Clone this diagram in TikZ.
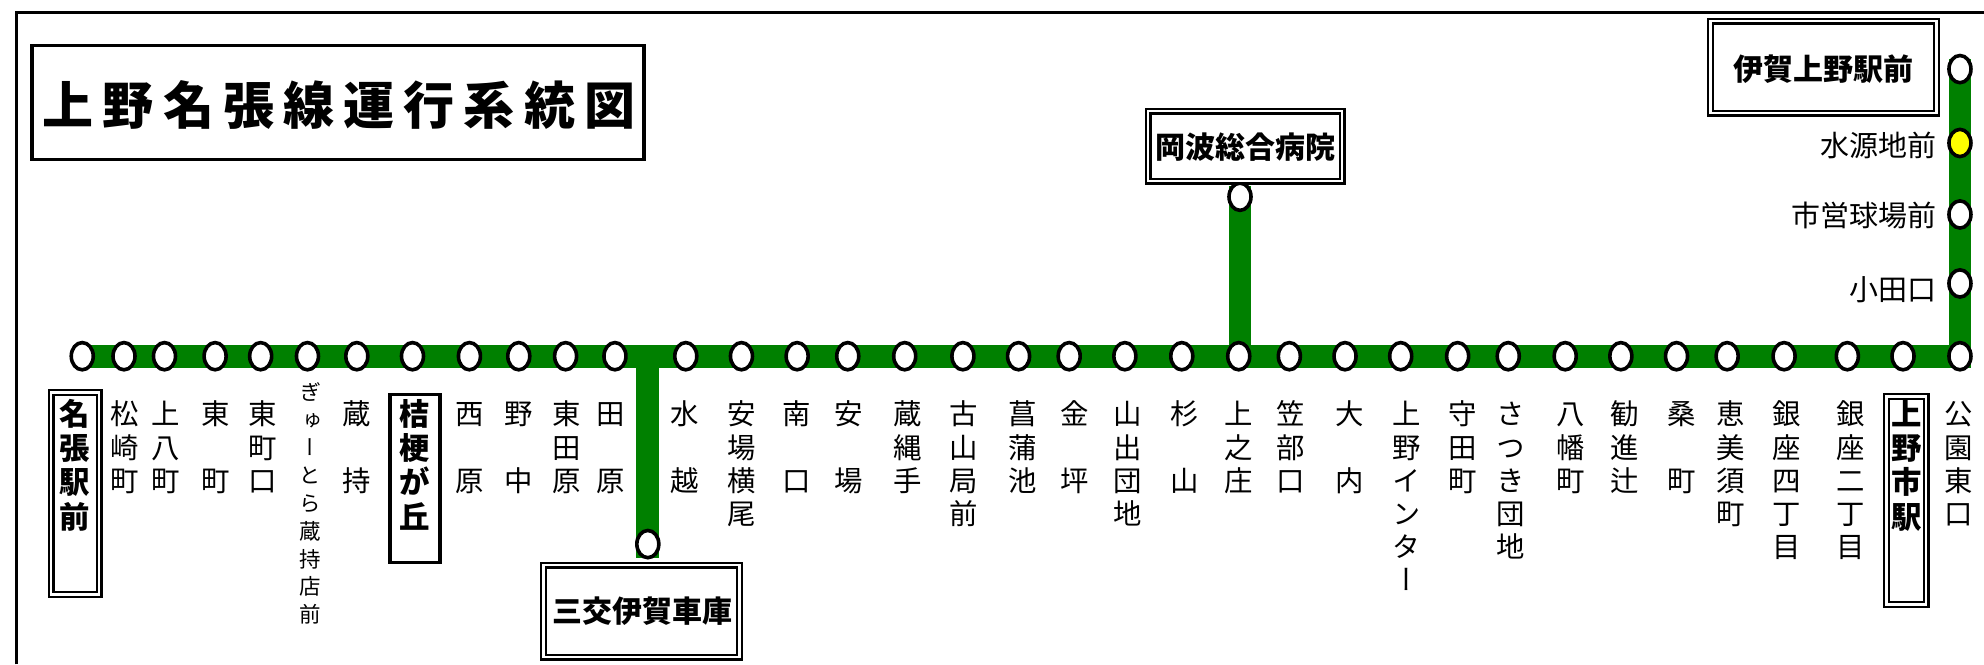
\documentclass[tikz,border=0pt]{standalone}
\usepackage{fontspec}
\setmainfont{Noto Sans CJK JP}
\newfontfamily\vlab[RawFeature=+vert]{Noto Sans CJK JP}
\newfontfamily\titlef[LetterSpace=18]{Noto Sans CJK JP}
\usetikzlibrary{shapes.geometric,backgrounds}
\newcommand\tp{\rule{0pt}{1em}}
\definecolor{trackgreen}{HTML}{008000}
\definecolor{stopyellow}{HTML}{FFFF00}
\tikzset{
  stn/.style={ellipse,draw=black,fill=white,line width=1.8pt,inner sep=0pt,minimum width=11pt,minimum height=13.6pt},
  track/.style={draw=trackgreen,line width=11.4pt},
  frameline/.style={draw=black,line width=1.8pt},
  lbl/.style={anchor=north,inner sep=0pt,align=center,font=\vlab\fontsize{14.2}{16.6}\selectfont},
  slbl/.style={anchor=north,inner sep=0pt,align=center,font=\vlab\fontsize{10.75}{13.9}\selectfont},
  blbl/.style={anchor=north,inner sep=0pt,align=center,font=\bfseries\fontsize{15.2}{17.1}\selectfont},
  rlbl/.style={anchor=east,inner sep=0pt,font=\fontsize{14.5}{16.6}\selectfont},
  hbold/.style={inner sep=0pt,font=\bfseries\fontsize{15}{17}\selectfont},
  dbox/.style={draw=black,fill=white,double=white,line width=1.1pt,double distance=1.3pt,inner sep=0pt},
  sbox/.style={draw=black,fill=white,line width=1.7pt,inner sep=0pt},
}
\begin{document}
\begin{tikzpicture}[x=0.6327pt,y=-0.6327pt]
\useasboundingbox (0,0) rectangle (1568,525);
% frame
\coordinate (fa) at (13,525);
\coordinate (fb) at (13,10);
\coordinate (fc) at (1568,10);
\draw[frameline] (fa) -- (fb) -- (fc);
% stations on the main line
\foreach \i/\x in {1/65,2/98,3/130,4/170,5/206,6/243,7/282,8/326,9/371,10/410,11/447,12/486,13/542,14/586,15/630,16/670,17/715,18/761,19/805,20/845,21/889,22/934,23/979,24/1019,25/1063,26/1107,27/1152,28/1192,29/1237,30/1281,31/1325,32/1365,33/1410,34/1460,35/1504,36/1549}
  \node[stn] (s\i) at (\x,281.5) {};
% stations on the vertical part and branches
\node[stn] (v1) at (1549,224) {};
\node[stn] (v2) at (1549,169.5) {};
\node[stn,fill=stopyellow] (v3) at (1549,113) {};
\node[stn] (v4) at (1549,54.6) {};
\node[stn] (bu) at (980,155.5) {};
\node[stn] (bd) at (512,430) {};
\coordinate (vtop) at (1549,47);
\coordinate (buend) at (980,147);
\coordinate (buroot) at (980,281.5);
\coordinate (bdend) at (512,441);
\coordinate (junc) at (512,281.5);
\begin{scope}[on background layer]
  \draw[track] (s1.center) -- (s36.center) -- (vtop);
  \draw[track] (buroot) -- (buend);
  \draw[track] (junc) -- (bdend);
\end{scope}
% title
\node[sbox,minimum width=306pt,minimum height=57pt] (title) at (267,81) {};
\node[inner sep=0pt,font=\titlef\bfseries\fontsize{25.5}{30}\selectfont] (titlet) at (268,83) {上野名張線運行系統図};
% boxed horizontal stops
\node[dbox,minimum width=113pt,minimum height=46pt] (b1) at (1441,53) {};
\node[hbold] (b1t) at (1441,55) {伊賀上野駅前};
\node[dbox,minimum width=97pt,minimum height=35pt] (b2) at (984,115.5) {};
\node[hbold] (b2t) at (984,116) {岡波総合病院};
\node[dbox,minimum width=98pt,minimum height=46pt] (b3) at (507,483) {};
\node[hbold] (b3t) at (508,483) {三交伊賀車庫};
% boxed vertical stops
\node[dbox,minimum width=24pt,minimum height=101pt] (b4) at (59.3,390) {};
\node[blbl] (b4t) at (59.3,312) {\tp 名\\張\\駅\\前};
\node[sbox,minimum width=25pt,minimum height=84pt] (b5) at (328,378) {};
\node[blbl] (b5t) at (328,312) {\tp 桔\\梗\\が\\丘};
\node[dbox,minimum width=20pt,minimum height=104pt] (b6) at (1506.5,395.5) {};
\node[blbl] (b6t) at (1507,312) {\tp 上\\野\\市\\駅};
% right-hand labels
\node[rlbl] (r1) at (1531,115) {水源地前};
\node[rlbl] (r2) at (1531,170) {市営球場前};
\node[rlbl] (r3) at (1531,229) {小田口};
% vertical labels
\node[lbl] at (98.8,313) {\tp 松\\崎\\町};
\node[lbl] at (131,313) {\tp 上\\八\\町};
\node[lbl] at (170.4,313) {\tp 東\\~\\町};
\node[lbl] at (207.5,313) {\tp 東\\町\\口};
\node[slbl] at (245,299) {\tp ぎ\\ゅ\\ー\\と\\ら\\蔵\\持\\店\\前};
\node[lbl] at (282,313) {\tp 蔵\\~\\持};
\node[lbl] at (371.5,313) {\tp 西\\~\\原};
\node[lbl] at (410,313) {\tp 野\\~\\中};
\node[lbl] at (448,313) {\tp 東\\田\\原};
\node[lbl] at (483,313) {\tp 田\\~\\原};
\node[lbl] at (541,313) {\tp 水\\~\\越};
\node[lbl] at (586,313) {\tp 安\\場\\横\\尾};
\node[lbl] at (630,313) {\tp 南\\~\\口};
\node[lbl] at (671,313) {\tp 安\\~\\場};
\node[lbl] at (717,313) {\tp 蔵\\縄\\手};
\node[lbl] at (762,313) {\tp 古\\山\\局\\前};
\node[lbl] at (808,313) {\tp 菖\\蒲\\池};
\node[lbl] at (849,313) {\tp 金\\~\\坪};
\node[lbl] at (891.6,313) {\tp 山\\出\\団\\地};
\node[lbl] at (936.6,313) {\tp 杉\\~\\山};
\node[lbl] at (978.6,313) {\tp 上\\之\\庄};
\node[lbl] at (1020,313) {\tp 笠\\部\\口};
\node[lbl] at (1067,313) {\tp 大\\~\\内};
\node[lbl] at (1112,313) {\tp 上\\野\\イ\\ン\\タ\\ー};
\node[lbl] at (1156,313) {\tp 守\\田\\町};
\node[lbl] at (1193.6,313) {\tp さ\\つ\\き\\団\\地};
\node[lbl] at (1241.6,313) {\tp 八\\幡\\町};
\node[lbl] at (1283.7,313) {\tp 勧\\進\\辻};
\node[lbl] at (1328.8,313) {\tp 桑\\~\\町};
\node[lbl] at (1368,313) {\tp 恵\\美\\須\\町};
\node[lbl] at (1412,313) {\tp 銀\\座\\四\\丁\\目};
\node[lbl] at (1463,313) {\tp 銀\\座\\二\\丁\\目};
\node[lbl] at (1548,313) {\tp 公\\園\\東\\口};
\end{tikzpicture}
\end{document}
